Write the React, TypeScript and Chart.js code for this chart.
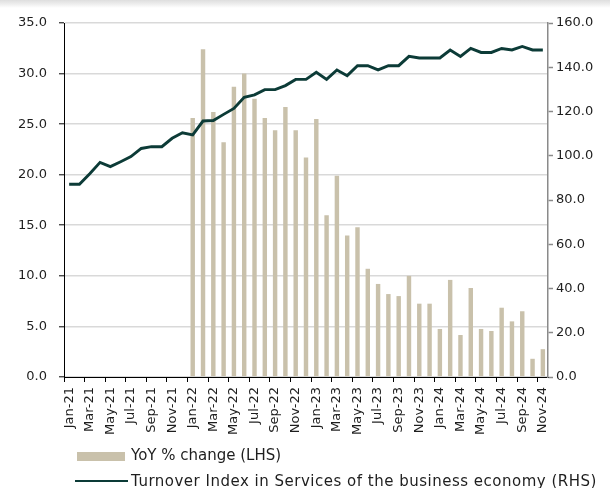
import React, { useEffect, useRef } from "react";
import { Chart, registerables } from "chart.js";

Chart.register(...registerables);

const months = [
  "Jan-21", "Feb-21", "Mar-21", "Apr-21", "May-21", "Jun-21", "Jul-21", "Aug-21", "Sep-21", "Oct-21", "Nov-21", "Dec-21",
  "Jan-22", "Feb-22", "Mar-22", "Apr-22", "May-22", "Jun-22", "Jul-22", "Aug-22", "Sep-22", "Oct-22", "Nov-22", "Dec-22",
  "Jan-23", "Feb-23", "Mar-23", "Apr-23", "May-23", "Jun-23", "Jul-23", "Aug-23", "Sep-23", "Oct-23", "Nov-23", "Dec-23",
  "Jan-24", "Feb-24", "Mar-24", "Apr-24", "May-24", "Jun-24", "Jul-24", "Aug-24", "Sep-24", "Oct-24", "Nov-24",
];

// YoY % change (LHS) - no data for 2021
const yoyChange: (number | null)[] = [
  null, null, null, null, null, null, null, null, null, null, null, null,
  25.6, 32.4, 26.2, 23.2, 28.7, 30.0, 27.5, 25.6, 24.4, 26.7, 24.4, 21.7,
  25.5, 16.0, 19.9, 14.0, 14.8, 10.7, 9.2, 8.2, 8.0, 10.0, 7.25, 7.25,
  4.75, 9.6, 4.15, 8.8, 4.75, 4.55, 6.85, 5.5, 6.5, 1.8, 2.75,
];

// Turnover Index in Services of the business economy (RHS)
const turnoverIndex = [
  87.1, 87.1, 91.9, 97.0, 95.1, 97.3, 99.6, 103.3, 104.1, 104.1, 107.9, 110.4,
  109.4, 115.7, 115.9, 118.7, 121.4, 126.4, 127.5, 129.9, 129.9, 131.7, 134.5, 134.5,
  137.7, 134.5, 138.8, 136.2, 140.7, 140.7, 138.8, 140.7, 140.7, 144.9, 144.2, 144.2,
  144.2, 147.8, 144.9, 148.5, 146.7, 146.7, 148.5, 147.8, 149.4, 147.8, 147.8,
];

const leftTicks = [0, 5, 10, 15, 20, 25, 30, 35];
const rightTicks = [0, 20, 40, 60, 80, 100, 120, 140, 160];

const barLabel = "YoY % change (LHS)";
const lineLabel = "Turnover Index in Services of the business economy (RHS)";

const BAR_COLOR = "#c9c1ab";
const LINE_COLOR = "#0c3b37";
const TEXT_COLOR = "#1e1e1e";
const FONT = "'DejaVu Sans', sans-serif";

export default function App() {
  const canvasRef = useRef<HTMLCanvasElement | null>(null);

  useEffect(() => {
    if (!canvasRef.current) return;
    const chart = new Chart(canvasRef.current, {
      type: "bar",
      data: {
        labels: months,
        datasets: [
          {
            type: "line",
            label: lineLabel,
            data: turnoverIndex,
            yAxisID: "y1",
            borderColor: LINE_COLOR,
            backgroundColor: LINE_COLOR,
            borderWidth: 2.9,
            pointRadius: 0,
            tension: 0,
            order: 0,
          } as any,
          {
            type: "bar",
            label: barLabel,
            data: yoyChange,
            yAxisID: "y",
            backgroundColor: BAR_COLOR,
            borderWidth: 0,
            barPercentage: 0.43,
            categoryPercentage: 1,
            order: 1,
          },
        ],
      },
      options: {
        responsive: false,
        animation: false,
        layout: { padding: { left: 0, right: 0, top: 23, bottom: 51 } },
        plugins: {
          legend: { display: false },
          tooltip: { enabled: false },
        },
        scales: {
          x: {
            offset: true,
            grid: {
              offset: true,
              drawOnChartArea: false,
              tickLength: 5,
              tickWidth: 1,
              tickColor: (ctx: any) => (ctx.index % 2 === 0 ? "#000000" : "rgba(0,0,0,0)"),
            },
            border: { color: "#000000", width: 1 },
            ticks: {
              autoSkip: false,
              maxRotation: 90,
              minRotation: 90,
              padding: 5,
              color: TEXT_COLOR,
              font: { family: FONT, size: 13 },
              callback: (_v: any, i: number) => (i % 2 === 0 ? months[i] : ""),
            },
            afterFit: (scale: any) => {
              scale.height = 60;
            },
          },
          y: {
            position: "left",
            min: 0,
            max: 35,
            afterBuildTicks: (scale: any) => {
              scale.ticks = leftTicks.map((v) => ({ value: v }));
            },
            grid: {
              color: "#d9d9d9",
              lineWidth: 1.6,
              tickColor: "#000000",
              tickLength: 5,
              tickWidth: 1,
            },
            border: { color: "#000000", width: 1 },
            ticks: {
              padding: 12,
              color: TEXT_COLOR,
              font: { family: FONT, size: 13 },
              callback: (v: any) => Number(v).toFixed(1),
            },
            afterFit: (scale: any) => {
              scale.width = 64;
            },
          },
          y1: {
            position: "right",
            min: 0,
            max: 160,
            afterBuildTicks: (scale: any) => {
              scale.ticks = rightTicks.map((v) => ({ value: v }));
            },
            grid: {
              drawOnChartArea: false,
              tickColor: "#8a8a8a",
              tickLength: 5,
              tickWidth: 1.5,
            },
            border: { color: "#8a8a8a", width: 1.5 },
            ticks: {
              padding: 3,
              color: TEXT_COLOR,
              font: { family: FONT, size: 13 },
              callback: (v: any) => Number(v).toFixed(1),
            },
            afterFit: (scale: any) => {
              scale.width = 62;
            },
          },
        },
      },
    });
    return () => chart.destroy();
  }, []);

  return (
    <div style={{ position: "absolute", left: 0, top: 0, width: 610, height: 488, background: "#fff", overflow: "hidden", fontFamily: FONT }}>
      <div style={{ position: "absolute", left: 0, top: 0, width: 610, height: 8, background: "linear-gradient(#dedede, #efefef 55%, #ffffff)" }} />
      <canvas ref={canvasRef} width={610} height={488} style={{ position: "absolute", left: 0, top: 0, width: 610, height: 488 }} />
      <div style={{ position: "absolute", left: 77, top: 452, width: 48, height: 9, background: BAR_COLOR }} />
      <div style={{ position: "absolute", left: 131, top: 446, fontSize: 15, lineHeight: "18px", color: TEXT_COLOR, whiteSpace: "nowrap" }}>{barLabel}</div>
      <div style={{ position: "absolute", left: 75, top: 480, width: 53, height: 2.2, background: LINE_COLOR }} />
      <div style={{ position: "absolute", left: 131, top: 472, fontSize: 15, lineHeight: "18px", letterSpacing: "0.5px", color: TEXT_COLOR, whiteSpace: "nowrap" }}>{lineLabel}</div>
    </div>
  );
}
